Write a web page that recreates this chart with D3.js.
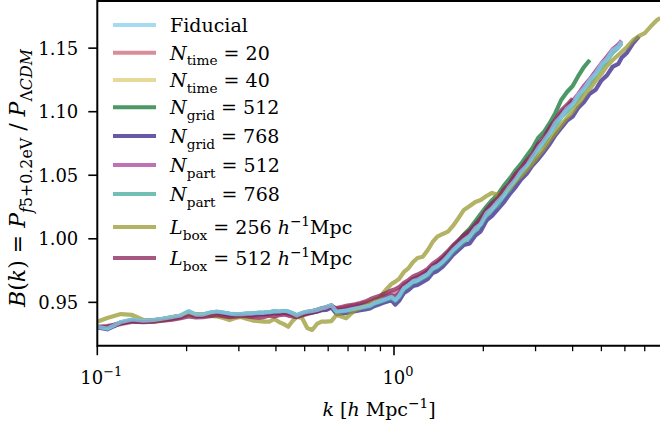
<!DOCTYPE html>
<html>
<head>
<meta charset="utf-8">
<script src="https://cdn.jsdelivr.net/npm/d3@7"></script>
<style>
  body { margin: 0; background: #fff; }
  svg { display: block; }
  text { font-family: "DejaVu Serif", serif; fill: #000; white-space: pre; }
</style>
</head>
<body>
<div id="chart"></div>
<script>
// shared k grid [h/Mpc]
const kGrid = [
  0.100, 0.108, 0.120, 0.131, 0.143, 0.155, 0.167, 0.179, 0.191, 0.203,
  0.215, 0.227, 0.240, 0.253, 0.266, 0.279, 0.292, 0.305, 0.320, 0.335,
  0.350, 0.365, 0.380, 0.395, 0.410, 0.425, 0.440, 0.455, 0.470, 0.490,
  0.510, 0.530, 0.550, 0.570, 0.590, 0.615, 0.640, 0.665, 0.690, 0.715,
  0.740, 0.770, 0.800, 0.830, 0.860, 0.890, 0.920, 0.950, 0.980, 1.010,
  1.040, 1.080, 1.120, 1.160, 1.200, 1.250, 1.300, 1.350, 1.400, 1.460,
  1.520, 1.580, 1.650, 1.720, 1.800, 1.880, 1.960, 2.050, 2.140, 2.240,
  2.340, 2.450, 2.560, 2.680, 2.800, 2.930, 3.060, 3.200, 3.350, 3.500,
  3.660, 3.830, 4.000, 4.180, 4.370, 4.570, 4.780, 5.000, 5.220, 5.450,
  5.700, 5.850, 6.100, 6.400, 6.700, 7.000, 7.350, 7.700, 7.900
];

// B(k) per run (each runs over kGrid from the start)
const fiducial = [
  .9304, .9290, .9341, .9361, .9353, .9357, .9369, .9381, .9393, .9428,
  .9400, .9400, .9416, .9424, .9416, .9408, .9404, .9404, .9408, .9410,
  .9416, .9416, .9418, .9428, .9424, .9430, .9424, .9410, .9393, .9412,
  .9422, .9428, .9436, .9448, .9456, .9475, .9424, .9428, .9432, .9440,
  .9448, .9456, .9463, .9471, .9491, .9503, .9515, .9526, .9538, .9515,
  .9546, .9609, .9633, .9664, .9672, .9696, .9719, .9766, .9782, .9817,
  .9861, .9908, .9948, .9987, 1.0018, 1.0080, 1.0112, 1.0198, 1.0236, 1.0290,
  1.0338, 1.0405, 1.0458, 1.0526, 1.0570, 1.0640, 1.0708, 1.0768, 1.0832, 1.0910,
  1.0962, 1.1022, 1.1058, 1.1130, 1.1178, 1.1246, 1.1296, 1.1370, 1.1410, 1.1480,
  1.1508, 1.1550
];
const nTime20 = [
  .9300, .9302, .9325, .9342, .9345, .9350, .9356, .9366, .9378, .9402,
  .9386, .9390, .9398, .9402, .9395, .9388, .9390, .9395, .9392, .9390,
  .9396, .9400, .9402, .9408, .9404, .9412, .9405, .9396, .9388, .9400,
  .9410, .9420, .9430, .9442, .9452, .9465, .9445, .9450, .9458, .9466,
  .9472, .9480, .9490, .9500, .9515, .9525, .9540, .9552, .9565, .9570,
  .9590, .9630, .9655, .9680, .9695, .9718, .9745, .9780, .9805, .9840,
  .9880, .9925, .9965, 1.0005, 1.0040, 1.0092, 1.0140, 1.0205, 1.0258, 1.0298,
  1.0360, 1.0412, 1.0480, 1.0535, 1.0592, 1.0645, 1.0728, 1.0775, 1.0850, 1.0912,
  1.0980, 1.1030, 1.1080, 1.1132, 1.1195, 1.1250, 1.1310, 1.1372, 1.1425, 1.1480,
  1.1520, 1.1550
];
const nTime40 = [
  .9306, .9295, .9338, .9358, .9350, .9355, .9365, .9378, .9390, .9420,
  .9398, .9398, .9412, .9420, .9412, .9405, .9400, .9402, .9405, .9406,
  .9412, .9413, .9415, .9424, .9420, .9426, .9420, .9407, .9392, .9408,
  .9418, .9425, .9433, .9445, .9453, .9470, .9428, .9430, .9435, .9443,
  .9450, .9458, .9466, .9474, .9493, .9505, .9518, .9530, .9540, .9525,
  .9552, .9612, .9636, .9666, .9676, .9700, .9724, .9768, .9786, .9820,
  .9864, .9910, .9952, .9990, 1.0022, 1.0076, 1.0124, 1.0193, 1.0246, 1.0282,
  1.0348, 1.0400, 1.0470, 1.0520, 1.0580, 1.0632, 1.0720, 1.0762, 1.0843, 1.0902,
  1.0972, 1.1016, 1.1068, 1.1122, 1.1188, 1.1240, 1.1303, 1.1365, 1.1418, 1.1476,
  1.1515, 1.1546
];
const nGrid512 = [
  .9304, .9294, .9338, .9358, .9351, .9356, .9367, .9380, .9391, .9422,
  .9399, .9400, .9414, .9421, .9414, .9406, .9403, .9404, .9407, .9409,
  .9414, .9415, .9417, .9426, .9422, .9428, .9423, .9410, .9395, .9411,
  .9421, .9428, .9437, .9449, .9458, .9474, .9432, .9436, .9440, .9448,
  .9456, .9464, .9472, .9480, .9498, .9510, .9522, .9536, .9550, .9538,
  .9566, .9615, .9641, .9672, .9688, .9705, .9735, .9772, .9800, .9843,
  .9885, .9932, .9978, 1.0030, 1.0075, 1.0135, 1.0190, 1.0250, 1.0300, 1.0345,
  1.0410, 1.0467, 1.0530, 1.0585, 1.0648, 1.0711, 1.0789, 1.0836, 1.0907, 1.0986,
  1.1088, 1.1151, 1.1198, 1.1277, 1.1348, 1.1403
];
const nGrid768 = [
  .9298, .9284, .9332, .9352, .9345, .9349, .9360, .9372, .9384, .9414,
  .9392, .9392, .9406, .9414, .9406, .9398, .9395, .9395, .9398, .9400,
  .9405, .9406, .9408, .9416, .9413, .9418, .9413, .9400, .9383, .9400,
  .9410, .9416, .9423, .9434, .9436, .9455, .9404, .9408, .9412, .9420,
  .9427, .9434, .9441, .9449, .9468, .9480, .9492, .9503, .9514, .9478,
  .9508, .9570, .9594, .9625, .9633, .9657, .9680, .9727, .9743, .9778,
  .9822, .9869, .9908, .9947, .9960, 1.0022, 1.0055, 1.0140, 1.0176, 1.0230,
  1.0280, 1.0345, 1.0398, 1.0462, 1.0508, 1.0574, 1.0622, 1.0680, 1.0742, 1.0812,
  1.0868, 1.0926, 1.0958, 1.1028, 1.1072, 1.1138, 1.1168, 1.1242, 1.1282, 1.1348,
  1.1372, 1.1420, 1.1460, 1.1535, 1.1588
];
const nPart512 = [
  .9302, .9298, .9335, .9355, .9350, .9354, .9364, .9376, .9388, .9418,
  .9395, .9396, .9410, .9418, .9410, .9402, .9399, .9400, .9403, .9405,
  .9410, .9411, .9414, .9422, .9418, .9424, .9418, .9405, .9390, .9407,
  .9418, .9426, .9435, .9447, .9456, .9472, .9435, .9438, .9443, .9450,
  .9458, .9466, .9474, .9484, .9502, .9514, .9527, .9540, .9552, .9540,
  .9568, .9625, .9650, .9678, .9688, .9712, .9736, .9780, .9798, .9834,
  .9877, .9922, .9963, 1.0002, 1.0034, 1.0088, 1.0136, 1.0205, 1.0257, 1.0294,
  1.0360, 1.0412, 1.0482, 1.0534, 1.0593, 1.0645, 1.0732, 1.0774, 1.0855, 1.0914,
  1.0985, 1.1030, 1.1080, 1.1135, 1.1200, 1.1252, 1.1314, 1.1376, 1.1428, 1.1486,
  1.1524, 1.1555
];
const nPart768 = [
  .9303, .9292, .9338, .9357, .9350, .9354, .9366, .9378, .9390, .9424,
  .9398, .9398, .9413, .9420, .9414, .9406, .9402, .9401, .9405, .9407,
  .9413, .9413, .9415, .9425, .9421, .9427, .9421, .9407, .9390, .9409,
  .9419, .9425, .9432, .9444, .9452, .9470, .9420, .9424, .9428, .9436,
  .9444, .9452, .9458, .9466, .9486, .9497, .9509, .9520, .9531, .9508,
  .9538, .9600, .9624, .9655, .9662, .9686, .9708, .9755, .9771, .9805,
  .9848, .9895, .9935, .9973, 1.0004, 1.0058, 1.0105, 1.0176, 1.0226, 1.0262,
  1.0328, 1.0380, 1.0450, 1.0500, 1.0560, 1.0610, 1.0700, 1.0740, 1.0822, 1.0880,
  1.0952, 1.0995, 1.1046, 1.1102, 1.1168, 1.1220, 1.1284, 1.1346, 1.1398, 1.1458,
  1.1500, 1.1535
];
const lBox256 = [
  .9344, .9373, .9404, .9397, .9357, .9341, .9361, .9377, .9393, .9404,
  .9404, .9397, .9389, .9385, .9373, .9357, .9373, .9381, .9365, .9353,
  .9349, .9344, .9344, .9365, .9341, .9325, .9304, .9349, .9381, .9373,
  .9294, .9279, .9326, .9344, .9345, .9349, .9397, .9385, .9371, .9404,
  .9436, .9452, .9475, .9491, .9515, .9528, .9570, .9607, .9640, .9659,
  .9680, .9735, .9766, .9814, .9845, .9855, .9908, .9971, 1.0013, 1.0034,
  1.0052, 1.0097, 1.0160, 1.0223, 1.0254, 1.0286, 1.0302, 1.0333, 1.0357, 1.0341,
  1.0365, 1.0389, 1.0444, 1.0490, 1.0537, 1.0592, 1.0647, 1.0703, 1.0773, 1.0829,
  1.0892, 1.0947, 1.0994, 1.1057, 1.1120, 1.1175, 1.1238, 1.1293, 1.1356, 1.1401,
  1.1442, 1.1466, 1.1505, 1.1560, 1.1592, 1.1615, 1.1670, 1.1717, 1.1733
];
const lBox512 = [
  .9304, .9310, .9330, .9345, .9340, .9345, .9352, .9360, .9372, .9385,
  .9378, .9380, .9388, .9395, .9388, .9380, .9383, .9390, .9385, .9380,
  .9376, .9380, .9392, .9385, .9395, .9400, .9392, .9386, .9380, .9392,
  .9405, .9415, .9426, .9440, .9450, .9462, .9452, .9460, .9468, .9475,
  .9480, .9490, .9502, .9520, .9535, .9545, .9560, .9575, .9590, .9600,
  .9615, .9650, .9672, .9700, .9715, .9735, .9760, .9800, .9825, .9860,
  .9900, .9945, .9985, 1.0025, 1.0060, 1.0110, 1.0158, 1.0225, 1.0275, 1.0315,
  1.0380, 1.0430, 1.0500, 1.0552, 1.0612, 1.0665, 1.0745, 1.0795, 1.0872, 1.0935,
  1.1005, 1.1050, 1.1098
];

// legend labels as [text, style, position] pieces
const labels = [
  [["Fiducial"]],
  [["N", "i"], ["time", "r", "sub"], [" = 20"]],
  [["N", "i"], ["time", "r", "sub"], [" = 40"]],
  [["N", "i"], ["grid", "r", "sub"], [" = 512"]],
  [["N", "i"], ["grid", "r", "sub"], [" = 768"]],
  [["N", "i"], ["part", "r", "sub"], [" = 512"]],
  [["N", "i"], ["part", "r", "sub"], [" = 768"]],
  [["L", "i"], ["box", "r", "sub"], [" = 256 "], ["h", "i"], ["−1", "r", "sup"], ["Mpc"]],
  [["L", "i"], ["box", "r", "sub"], [" = 512 "], ["h", "i"], ["−1", "r", "sup"], ["Mpc"]]
];
const runs = [fiducial, nTime20, nTime40, nGrid512, nGrid768, nPart512, nPart768, lBox256, lBox512];
const yTicks = [0.95, 1.00, 1.05, 1.10, 1.15];

// Tol "muted" palette, in legend order
const colors = ["#88CCEE", "#CC6677", "#DDCC77", "#117733", "#332288",
                "#AA4499", "#44AA99", "#999933", "#882255"];

const W = 660, H = 427;
const plot = { left: 97.3, right: 662, top: 1, bottom: 345.7 };
const FS = 18;

const svg = d3.select("#chart").append("svg").attr("width", W).attr("height", H);

const x = d3.scaleLog().domain([0.1, 7.88]).range([plot.left, 660]);
const y = d3.scaleLinear().domain([0.9155, 1.1867]).range([plot.bottom, plot.top]);

function rich(sel, parts, size) {
  let shift = 0;
  parts.forEach(([txt, style, pos]) => {
    const target = pos === "sub" ? size * 0.3 : pos === "sup" ? -size * 0.42 : 0;
    sel.append("tspan")
      .attr("dy", (target - shift).toFixed(2))
      .style("font-style", style === "i" ? "italic" : "normal")
      .style("font-size", (pos ? size * 0.72 : size) + "px")
      .text(txt);
    shift = target;
  });
}

svg.append("clipPath").attr("id", "clip")
  .append("rect")
  .attr("x", plot.left).attr("y", plot.top)
  .attr("width", plot.right - plot.left).attr("height", plot.bottom - plot.top);

// curves: fiducial drawn last so it sits on top
const line = d3.line()
  .x(d => x(d[0]))
  .y(d => y(d[1]));

const order = [1, 2, 3, 4, 5, 6, 7, 8, 0];
const curves = svg.append("g").attr("clip-path", "url(#clip)");
order.forEach(i => {
  const pts = runs[i].map((b, j) => [kGrid[j], b]);
  curves.append("path")
    .attr("d", line(pts))
    .attr("fill", "none")
    .attr("stroke", colors[i])
    .attr("stroke-width", 4.2)
    .attr("stroke-opacity", 0.75)
    .attr("stroke-linejoin", "round");
});

// y axis
const yAxis = svg.append("g")
  .attr("transform", `translate(${plot.left},0)`)
  .call(d3.axisLeft(y).tickValues(yTicks).tickFormat(d3.format(".2f")).tickSize(9).tickPadding(10));
yAxis.select(".domain").remove();
yAxis.selectAll(".tick line").attr("stroke", "#000").attr("stroke-width", 1.6);
yAxis.selectAll(".tick text")
  .style("font-family", '"DejaVu Serif", serif')
  .style("font-size", FS + "px")
  .attr("dy", "0.36em");

// x axis: major decades + minor ticks
const majors = [0.1, 1];
const minors = [0.2, 0.3, 0.4, 0.5, 0.6, 0.7, 0.8, 0.9, 2, 3, 4, 5, 6, 7];
const xAxis = svg.append("g").attr("transform", `translate(0,${plot.bottom})`);
xAxis.selectAll(".minor").data(minors).join("line")
  .attr("x1", d => x(d)).attr("x2", d => x(d))
  .attr("y1", 0).attr("y2", 5.5)
  .attr("stroke", "#000").attr("stroke-width", 1.3);
xAxis.selectAll(".major").data(majors).join("line")
  .attr("x1", d => x(d)).attr("x2", d => x(d))
  .attr("y1", 0).attr("y2", 9.5)
  .attr("stroke", "#000").attr("stroke-width", 1.6);
majors.forEach(d => {
  const t = xAxis.append("text")
    .attr("x", x(d) + 4).attr("y", 38)
    .attr("text-anchor", "middle")
    .style("font-size", FS + "px");
  rich(t, [["10"], [d === 0.1 ? "−1" : "0", "r", "sup"]], FS);
});

// frame (right side is cropped in the figure)
svg.append("path")
  .attr("d", `M${plot.right},${plot.bottom}H${plot.left}V${plot.top}H${plot.right}`)
  .attr("fill", "none").attr("stroke", "#000").attr("stroke-width", 2);

// axis labels
const xl = svg.append("text")
  .attr("x", 379).attr("y", 416)
  .attr("text-anchor", "middle")
  .style("font-size", (FS + 1) + "px");
rich(xl, [["k", "i"], [" ["], ["h", "i"], [" Mpc"], ["−1", "r", "sup"], ["]"]], FS + 1);

const yl = svg.append("text")
  .attr("transform", "translate(25,178) rotate(-90)")
  .attr("text-anchor", "middle")
  .style("font-size", "22px");
rich(yl, [["B", "i"], ["("], ["k", "i"], [") = "], ["P", "i"], ["f", "i", "sub"], ["5+0.2eV", "r", "sub"],
          [" / "], ["P", "i"], ["Λ", "r", "sub"], ["CDM", "i", "sub"]], 22);

// legend (no frame)
const legendRowY = [25, 52.7, 80, 107.3, 136, 165, 194, 227, 258];
const legend = svg.append("g");
labels.forEach((parts, i) => {
  const ly = legendRowY[i];
  legend.append("line")
    .attr("x1", 113).attr("x2", 156)
    .attr("y1", ly).attr("y2", ly)
    .attr("stroke", colors[i]).attr("stroke-width", 4).attr("stroke-opacity", 0.75);
  const t = legend.append("text")
    .attr("x", 170).attr("y", ly + 7)
    .style("font-size", (FS + 1) + "px");
  rich(t, parts, FS + 1);
});
</script>
</body>
</html>
